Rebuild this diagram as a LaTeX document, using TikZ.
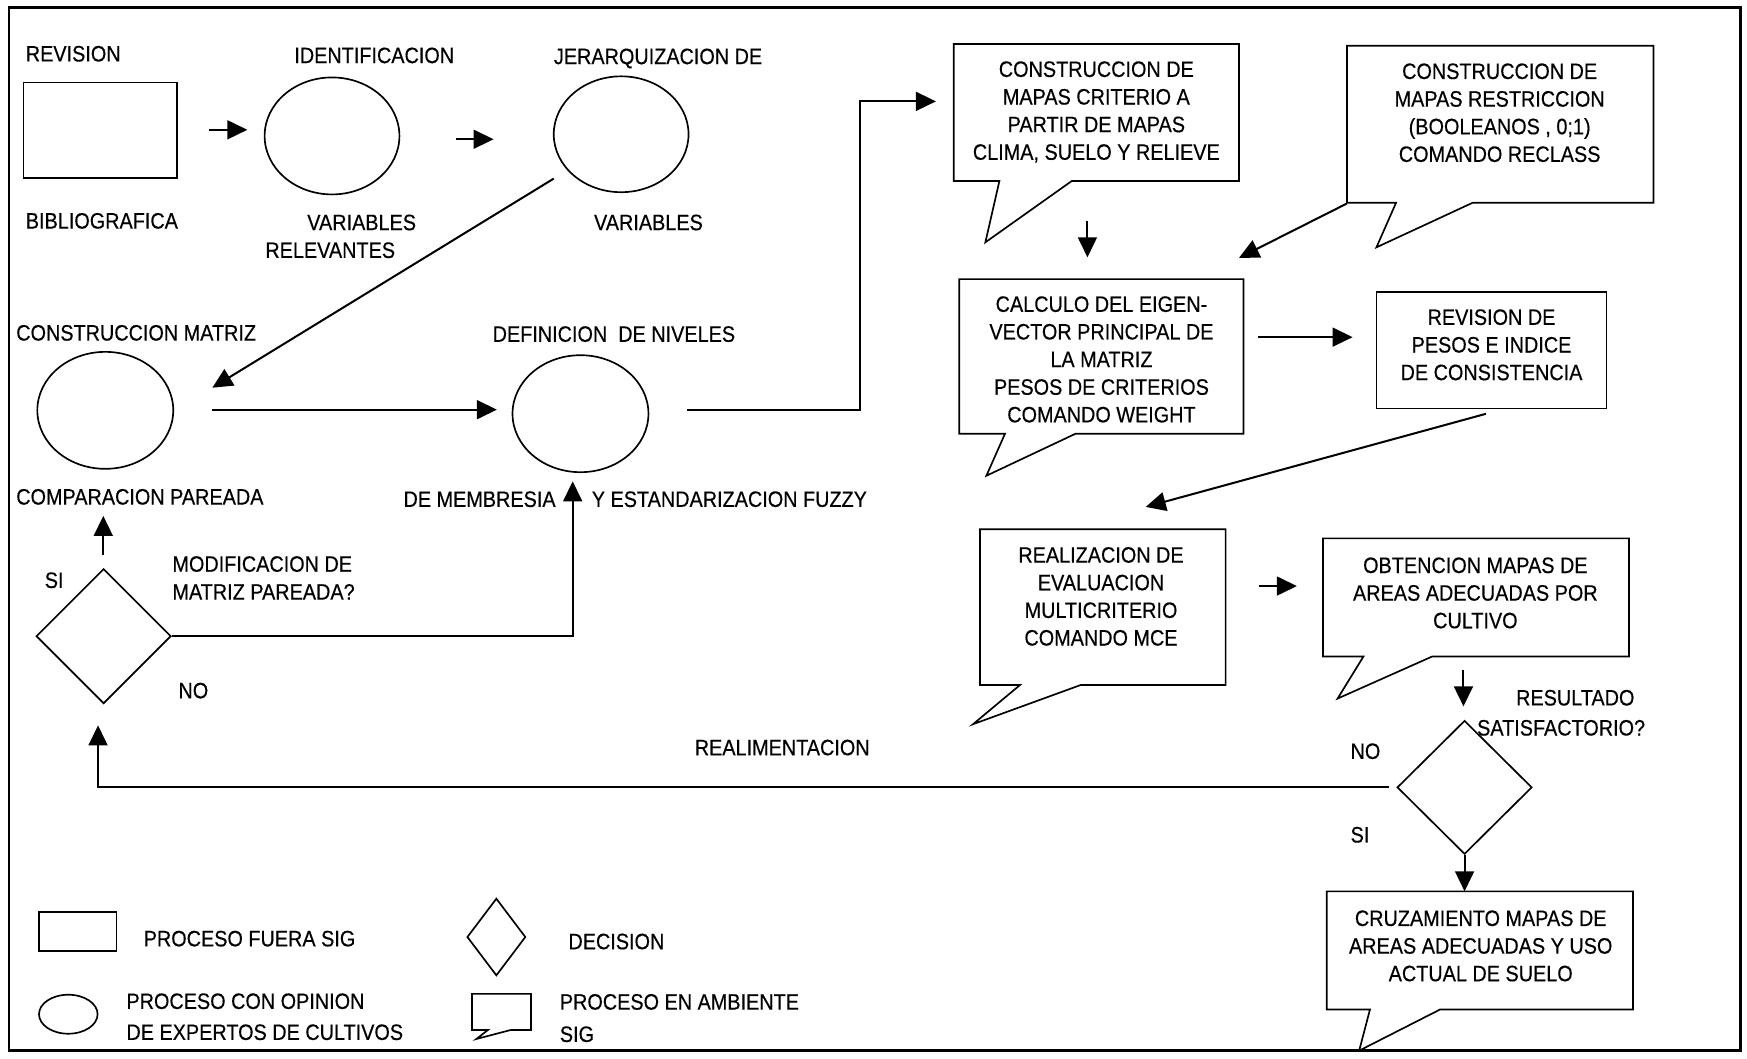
\documentclass[tikz,border=0pt]{standalone}
\usepackage{fontspec}
\setmainfont{Liberation Sans}[FakeStretch=0.89,FakeBold=0.4]
\usetikzlibrary{arrows.meta,shapes.geometric}
% callout outline: x1,y1,x2,y2,tail-left x,tip x,tip y,tail-right x
\newcommand\mycallout[8]{%
  \draw[shp] (#1,#2) -- (#3,#2) -- (#3,#4) -- (#8,#4) -- (#6,#7) -- (#5,#4) -- (#1,#4) -- cycle;}
\begin{document}
\begin{tikzpicture}[x=1pt,y=-1pt,
  shp/.style={draw=black,line width=1.5pt,line join=miter},
  conn/.style={line width=1.8pt,-{Triangle[length=18pt,width=17pt]}},
  txtfont/.style={font=\fontsize{20}{24.8}\selectfont},
  lbl/.style={txtfont,inner sep=0pt,text height=14.3pt,text depth=0pt,anchor=west},
  btxt/.style={txtfont,inner sep=0pt,align=center},
  ell/.style={shp,ellipse,inner sep=0pt},
  dia/.style={shp,diamond,inner sep=0pt},
  box/.style={shp,rectangle,inner sep=0pt}]
\useasboundingbox (0,0) rectangle (1568,950);
\draw[line width=2.4pt] (8,6.5) rectangle (1562,943);

% ---------- left part: shapes ----------
\node[box,minimum width=138pt,minimum height=86pt] (rev) at (90,117) {};
\node[ell,minimum width=121pt,minimum height=105pt] (ide) at (298,122) {};
\node[ell,minimum width=121pt,minimum height=104pt] (jer) at (557.5,120.5) {};
\node[ell,minimum width=122pt,minimum height=105pt] (mat) at (94.5,368.3) {};
\node[ell,minimum width=122pt,minimum height=105pt] (def) at (521,371.3) {};
\node[dia,minimum width=121pt,minimum height=121pt] (d1) at (93,571) {};
\node[dia,minimum width=121pt,minimum height=120pt] (d2) at (1314.5,706.7) {};

% ---------- labels left part ----------
\node[lbl] (t1) at (23,48) {REVISION};
\node[lbl] (t2) at (23,198) {BIBLIOGRAFICA};
\node[lbl] (t3) at (264,49.5) {IDENTIFICACION};
\node[lbl] (t4) at (275.6,199.4) {VARIABLES};
\node[lbl] (t5) at (238,224.3) {RELEVANTES};
\node[lbl] (t6) at (497,50.4) {JERARQUIZACION DE};
\node[lbl] (t7) at (533,199.4) {VARIABLES};
\node[lbl] (t8) at (14.4,298.5) {CONSTRUCCION MATRIZ};
\node[lbl] (t9) at (14.4,445.7) {COMPARACION PAREADA};
\node[lbl] (t10) at (442,299.6) {DEFINICION\ \ DE NIVELES};
\node[lbl] (t11) at (362,447.8) {DE MEMBRESIA};
\node[lbl] (t12) at (531,447.8) {Y ESTANDARIZACION FUZZY};
\node[lbl] (t13) at (154.6,506) {MODIFICACION DE};
\node[lbl] (t14) at (154.6,531) {MATRIZ PAREADA?};
\node[lbl] (t15) at (40,520.5) {SI};
\node[lbl] (t16) at (160,619.6) {NO};
\node[lbl] (t17) at (623.4,670.7) {REALIMENTACION};

% ---------- callouts ----------
\mycallout{856}{39.5}{1112}{162.4}{897}{884.4}{217.5}{962}
\node[btxt] (b1) at (984,100.5) {CONSTRUCCION DE\\MAPAS CRITERIO A\\PARTIR DE MAPAS\\CLIMA, SUELO Y RELIEVE};
\mycallout{1209}{41}{1484}{182}{1253}{1235.4}{222}{1321.7}
\node[btxt] (b2) at (1346,101.2) {CONSTRUCCION DE\\MAPAS RESTRICCION\\(BOOLEANOS , 0;1)\\COMANDO RECLASS};
\mycallout{861}{250.5}{1116}{389.3}{902}{885.3}{427}{965.3}
\node[btxt] (b3) at (988.6,322.6) {CALCULO DEL EIGEN-\\VECTOR PRINCIPAL DE\\LA MATRIZ\\PESOS DE CRITERIOS\\COMANDO WEIGHT};
\node[box,minimum width=206.6pt,minimum height=104.3pt] (b4box) at (1338.7,314.5) {};
\node[btxt] (b4) at (1338.7,309.5) {REVISION DE\\PESOS E INDICE\\DE CONSISTENCIA};
\mycallout{879.6}{475}{1100}{614.8}{915.5}{873.3}{650}{970}
\node[btxt] (b5) at (988.2,535.3) {REALIZACION DE\\EVALUACION\\MULTICRITERIO\\COMANDO MCE};
\mycallout{1187.4}{483.2}{1462}{589.3}{1223.7}{1200.5}{627}{1285.3}
\node[btxt] (b6) at (1324.2,532.2) {OBTENCION MAPAS DE\\AREAS ADECUADAS POR\\CULTIVO};
\mycallout{1190.8}{800}{1465.7}{906}{1229.6}{1219.9}{943}{1292.6}
\node[btxt] (b7) at (1329,849) {CRUZAMIENTO MAPAS DE\\AREAS ADECUADAS Y USO\\ACTUAL DE SUELO};

\node[lbl] (t18) at (1360.6,626) {RESULTADO};
\node[lbl] (t19) at (1325.6,653) {SATISFACTORIO?};
\node[lbl] (t20) at (1212,674) {NO};
\node[lbl] (t21) at (1212,749) {SI};

% ---------- legend ----------
\node[box,minimum width=69.6pt,minimum height=35.1pt] (lrect) at (69.8,836) {};
\node[lbl] (l1) at (128.8,842.2) {PROCESO FUERA SIG};
\node[dia,minimum width=52.6pt,minimum height=69.4pt] (ldia) at (445.5,841) {};
\node[lbl] (l2) at (510,844.8) {DECISION};
\node[ell,minimum width=52.6pt,minimum height=35pt] (lell) at (61.3,910.3) {};
\node[lbl] (l3) at (113.3,898.4) {PROCESO CON OPINION};
\node[lbl] (l4) at (113.3,926.2) {DE EXPERTOS DE CULTIVOS};
\mycallout{423.6}{892}{476.6}{924.4}{438}{427.6}{932.5}{458.6}
\node[lbl] (l5) at (502.3,899) {PROCESO EN AMBIENTE};
\node[lbl] (l6) at (502.3,928) {SIG};

% ---------- connector end points ----------
\coordinate (a1s) at (188,116.5);   \coordinate (a1e) at (222,116.5);
\coordinate (a2s) at (409,125);     \coordinate (a2e) at (443,125);
\coordinate (a3s) at (497,160.3);   \coordinate (a3e) at (190.6,348);
\coordinate (a4s) at (190.6,367.7); \coordinate (a4e) at (446,367.7);
\coordinate (a5s) at (617,368);     \coordinate (a5m) at (771.7,91); \coordinate (a5e) at (840,91);
\coordinate (a6s) at (976,198);     \coordinate (a6e) at (976,231);
\coordinate (a7s) at (1209,182.6);  \coordinate (a7e) at (1112,231.5);
\coordinate (a8s) at (1129,302.6);  \coordinate (a8e) at (1214,302.6);
\coordinate (a9s) at (1333.7,371.4);\coordinate (a9e) at (1028.3,455);
\coordinate (a10s) at (1130,526);   \coordinate (a10e) at (1164,526);
\coordinate (a11s) at (1313.5,601.3); \coordinate (a11e) at (1313.5,634);
\coordinate (a12e) at (1314.5,800);
\coordinate (a13s) at (1247,706);   \coordinate (a13e) at (88,651);
\coordinate (a14s) at (92.7,498);   \coordinate (a14e) at (92.7,463);
\coordinate (a15e) at (514,432);

% ---------- connectors ----------
\draw[conn] (a1s) -- (a1e);
\draw[conn] (a2s) -- (a2e);
\draw[conn] (a3s) -- (a3e);
\draw[conn] (a4s) -- (a4e);
\draw[conn] (a5s) -| (a5m) -- (a5e);
\draw[conn] (a6s) -- (a6e);
\draw[conn] (a7s) -- (a7e);
\draw[conn] (a8s) -- (a8e);
\draw[conn] (a9s) -- (a9e);
\draw[conn] (a10s) -- (a10e);
\draw[conn] (a11s) -- (a11e);
\draw[conn] (d2.south) -- (a12e);
\draw[conn] (a13s) -| (a13e);
\draw[conn] (a14s) -- (a14e);
\draw[conn] (d1.east) -| (a15e);
\end{tikzpicture}
\end{document}
